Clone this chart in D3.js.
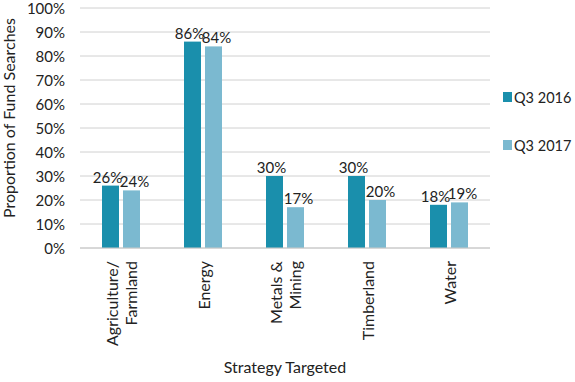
<!DOCTYPE html>
<html><head><meta charset="utf-8">
<script src="https://cdn.jsdelivr.net/npm/d3@7/dist/d3.min.js"></script>
<style>body{margin:0;background:#fff}svg{display:block;font-family:Lato,sans-serif}</style>
</head><body><svg id="c" width="575" height="382"></svg>
<script>
const categories = [["Agriculture/","Farmland"],["Energy"],["Metals &","Mining"],["Timberland"],["Water"]];
const seriesNames = ["Q3 2016","Q3 2017"];
const q3_2016 = [26,86,30,30,18];
const q3_2017 = [24,84,17,20,19];
const yTicks = [0,10,20,30,40,50,60,70,80,90,100];
const colors = ["#1a8fac","#7bb9d0"];

const svg = d3.select("#c");
const x0 = d3.scaleBand().domain(d3.range(categories.length)).range([80,490]);
const y = d3.scaleLinear().domain([0,100]).range([248,8]);

svg.append("g").selectAll("line").data(yTicks).join("line")
  .attr("x1",80).attr("x2",490).attr("y1",d=>y(d)).attr("y2",d=>y(d))
  .attr("stroke","#d0d0d0").attr("stroke-width",1);
svg.append("g").selectAll("text").data(yTicks).join("text")
  .attr("x",65).attr("y",d=>y(d)+5.5).attr("text-anchor","end")
  .attr("font-size",15).attr("fill","#222").text(d=>d+"%");

const series = [q3_2016,q3_2017];
const offs = [22,43];
const bw = 17;
series.forEach((vals,si)=>{
  const g = svg.append("g");
  g.selectAll("rect").data(vals).join("rect")
    .attr("x",(d,i)=>x0(i)+offs[si]).attr("width",bw)
    .attr("y",d=>y(d)).attr("height",d=>y(0)-y(d)).attr("fill",colors[si]);
  g.selectAll("text").data(vals).join("text")
    .attr("x",(d,i)=>x0(i)+offs[si]+bw/2 + (si===0?-3:3)).attr("y",d=>y(d)-3)
    .attr("text-anchor","middle").attr("font-size",15).attr("fill","#222").text(d=>d+"%");
});

svg.append("line").attr("x1",80).attr("x2",490).attr("y1",y(0)).attr("y2",y(0)).attr("stroke","#c8c8c8");

// category labels
categories.forEach((lines,i)=>{
  const cx = x0(i)+x0.bandwidth()/2 + 1;
  const t = svg.append("text").attr("transform",`translate(${cx},261) rotate(-90)`)
    .attr("text-anchor","end").attr("font-size",16).attr("fill","#222");
  const n = lines.length;
  lines.forEach((l,j)=>{
    t.append("tspan").attr("x",0).attr("y",(j-(n-1)/2)*19+5.5).text(l);
  });
});

svg.append("text").attr("x",285).attr("y",373).attr("text-anchor","middle")
  .attr("font-size",16).attr("fill","#222").text("Strategy Targeted");
svg.append("text").attr("transform","translate(15,118) rotate(-90)").attr("text-anchor","middle")
  .attr("font-size",16).attr("fill","#222").text("Proportion of Fund Searches");

seriesNames.forEach((s,i)=>{
  const yy = 97 + i*48;
  svg.append("rect").attr("x",503).attr("y",yy-5).attr("width",9).attr("height",10).attr("fill",colors[i]);
  svg.append("text").attr("x",514).attr("y",yy+6).attr("font-size",14.5).attr("fill","#222").text(s);
});
</script></body></html>
